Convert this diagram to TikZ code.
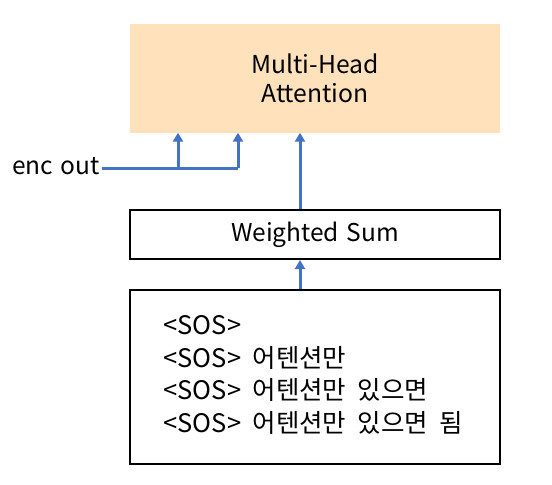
\documentclass[tikz,border=0pt]{standalone}
\usepackage{fontspec}
\setmainfont[WordSpace=1.4]{Noto Sans CJK KR}
\newfontfamily\seqfont[WordSpace=2.0]{Noto Sans CJK KR}
\usetikzlibrary{arrows.meta}
\definecolor{attnfill}{RGB}{255,226,188}
\definecolor{linkblue}{RGB}{68,114,196}
\tikzstyle{box} = [draw=black, line width=2, minimum width=370, minimum height=49, font={\fontsize{24.5}{29}\selectfont}]
\tikzstyle{attn} = [fill=attnfill, minimum width=370, minimum height=109, align=center, font={\fontsize{24.7}{29}\selectfont}]
\tikzstyle{wire} = [draw=linkblue, line width=3]
\tikzstyle{link} = [wire, -{Triangle[width=10,length=9]}]

\begin{document}
\begin{tikzpicture}[x=1pt,y=-1pt]
        \useasboundingbox (0,0) rectangle (552,485);
        \node[attn](mha) at (315,78){Multi-Head\\Attention};
        \node[box](ws) at (315,234.5){Weighted Sum};
        \node[box,minimum height=174](dec) at (315,377){};
        \node[anchor=west,align=left,font={\seqfont\fontsize{25.5}{32.4}\selectfont}](seq) at (160,375){%
          <SOS>\\<SOS> 어텐션만\\<SOS> 어텐션만 있으면\\<SOS> 어텐션만 있으면 됨};
        \node[anchor=east,inner sep=2,font={\fontsize{24.5}{24}\selectfont}](enc) at (102,166){enc out};
        \coordinate(j1) at (178,168);
        \coordinate(j2) at (238,168);
        \draw[wire](enc.east|-j1)--(j2);
        \draw[link](j1)--(j1|-mha.south);
        \draw[link](j2)--(j2|-mha.south);
        \draw[link]([xshift=-15]dec.north)--([xshift=-15]ws.south);
        \draw[link]([xshift=-15]ws.north)--([xshift=-15]mha.south);
      \end{tikzpicture}
\end{document}
